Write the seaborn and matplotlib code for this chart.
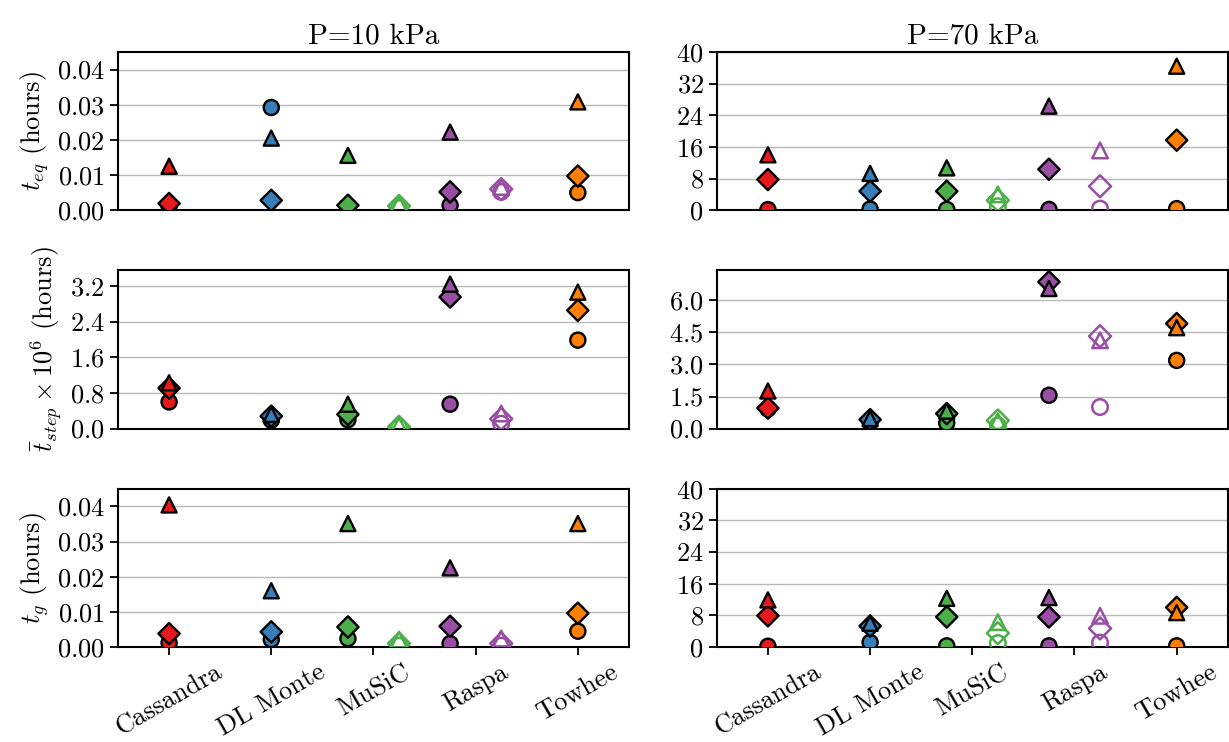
import numpy as np
import pandas as pd
import seaborn as sns
import matplotlib.pyplot as plt

sns.set_style("ticks")
plt.rcParams["font.family"] = ["cmr10", "DejaVu Serif"]
plt.rcParams["mathtext.fontset"] = "cm"
plt.rcParams["axes.formatter.use_mathtext"] = True
plt.rcParams["axes.unicode_minus"] = False
for key in ["text.color", "axes.labelcolor", "xtick.color", "ytick.color"]:
    plt.rcParams[key] = "black"

# codes (tick labels) and the 7 plotted entries (two codes have a second, hollow run)
tools = ["Cassandra", "DL Monte", "MuSiC", "Raspa", "Towhee"]
entry_tool = ["Cassandra", "DL Monte", "MuSiC", "MuSiC", "Raspa", "Raspa", "Towhee"]
entry_hollow = [False, False, False, True, False, True, False]

# t_eq (hours), P = 10 kPa
teq_10_circle = [0.0012, 0.0292, 0.0005, 0.0006, 0.0014, 0.0052, 0.0050]
teq_10_triangle = [0.0125, 0.0205, 0.0156, 0.0018, 0.0222, 0.0066, 0.0308]
teq_10_diamond = [0.0019, 0.0028, 0.0014, 0.0012, 0.0052, 0.0060, 0.0097]
# t_eq (hours), P = 70 kPa
teq_70_circle = [0.15, 0.3, 0.2, 1.0, 0.2, 0.4, 0.4]
teq_70_triangle = [14.0, 9.3, 10.7, 4.0, 26.3, 15.1, 36.4]
teq_70_diamond = [7.75, 4.8, 4.8, 2.5, 10.35, 6.05, 17.7]

# t_step x 1e6 (hours)
tstep_10_circle = [0.60, 0.19, 0.20, 0.02, 0.55, 0.11, 1.99]
tstep_10_triangle = [1.03, 0.32, 0.55, 0.08, 3.25, 0.34, 3.07]
tstep_10_diamond = [0.91, 0.28, 0.32, 0.04, 2.96, 0.22, 2.66]
tstep_70_circle = [0.92, 0.3, 0.26, 0.15, 1.56, 1.01, 3.19]
tstep_70_triangle = [1.76, 0.47, 0.82, 0.35, 6.55, 4.13, 4.72]
tstep_70_diamond = [0.96, 0.42, 0.70, 0.38, 6.86, 4.32, 4.91]

# t_g (hours)
tg_10_circle = [0.0012, 0.0021, 0.0024, 0.0004, 0.0010, 0.0004, 0.0045]
tg_10_triangle = [0.0404, 0.0160, 0.0351, 0.0021, 0.0225, 0.0024, 0.0351]
tg_10_diamond = [0.0038, 0.0043, 0.0057, 0.0010, 0.0059, 0.0010, 0.0096]
tg_70_circle = [0.2, 1.2, 0.3, 1.0, 0.3, 1.1, 0.3]
tg_70_triangle = [11.9, 6.0, 12.3, 6.3, 12.5, 7.9, 8.7]
tg_70_diamond = [7.9, 5.3, 7.6, 3.5, 7.6, 4.7, 10.0]

panels = [
    [(teq_10_circle, teq_10_triangle, teq_10_diamond), (teq_70_circle, teq_70_triangle, teq_70_diamond)],
    [(tstep_10_circle, tstep_10_triangle, tstep_10_diamond), (tstep_70_circle, tstep_70_triangle, tstep_70_diamond)],
    [(tg_10_circle, tg_10_triangle, tg_10_diamond), (tg_70_circle, tg_70_triangle, tg_70_diamond)],
]
titles = ["P=10 kPa", "P=70 kPa"]
ylabels = [r"$t_{eq}$ (hours)", r"$\bar{t}_{step} \times 10^6$ (hours)", r"$t_g$ (hours)"]
yticks = [
    [np.arange(0, 0.041, 0.01), np.arange(0, 41, 8)],
    [np.arange(0, 3.3, 0.8), np.arange(0, 6.1, 1.5)],
    [np.arange(0, 0.041, 0.01), np.arange(0, 41, 8)],
]
ylims = [[0.045, 40], [3.56, 7.4], [0.045, 40]]

palette = {"Cassandra": "#e41a1c", "DL Monte": "#377eb8", "MuSiC": "#4daf4a",
           "Raspa": "#984ea3", "Towhee": "#ff7f00"}

# offset of the filled/hollow pair around a code's tick
offset = np.array([0, 0, -0.25, 0.25, -0.25, 0.25, 0])
xpos = np.array([tools.index(t) for t in entry_tool]) + offset

markers = ["o", "^", "D"]
draw_order = [0, 2, 1]  # circle, diamond, triangle on top

fig, axes = plt.subplots(3, 2, figsize=(12.29, 7.42), dpi=100)
fig.subplots_adjust(left=0.096, right=0.999, top=0.93, bottom=0.128, wspace=0.172, hspace=0.38)

for r in range(3):
    for c in range(2):
        ax = axes[r, c]
        series = panels[r][c]
        for k in draw_order:
            df = pd.DataFrame({"x": xpos, "y": series[k], "tool": entry_tool, "hollow": entry_hollow})
            filled = df[~df["hollow"]]
            sns.scatterplot(data=filled, x="x", y="y", hue="tool", palette=palette,
                            marker=markers[k], s=118, edgecolor="black", linewidth=1.7,
                            legend=False, ax=ax, zorder=3)
            for _, row in df[df["hollow"]].iterrows():
                sns.scatterplot(x=[row["x"]], y=[row["y"]], marker=markers[k], s=125,
                                color=palette[row["tool"]], facecolor="none",
                                edgecolor=palette[row["tool"]], linewidth=1.8,
                                legend=False, ax=ax, zorder=3)
        ax.set_xlim(-0.5, 4.5)
        ax.set_ylim(0, ylims[r][c])
        ax.set_yticks(yticks[r][c])
        ax.yaxis.grid(True, color="#b8b8b8", linewidth=1.0)
        ax.set_axisbelow(True)
        for sp in ax.spines.values():
            sp.set_linewidth(1.5)
            sp.set_color("black")
        ax.tick_params(axis="both", labelsize=19, width=1.3, length=6, color="black")
        ax.set_xlabel("")
        ax.set_ylabel(ylabels[r] if c == 0 else "", fontsize=19)
        if r < 2:
            ax.set_xticks([])
        else:
            ax.set_xticks(range(len(tools)))
            ax.set_xticklabels(tools, rotation=30, ha="center")
        if r == 0:
            ax.set_title(titles[c], fontsize=21)

fig.savefig("out.png", dpi=100)
